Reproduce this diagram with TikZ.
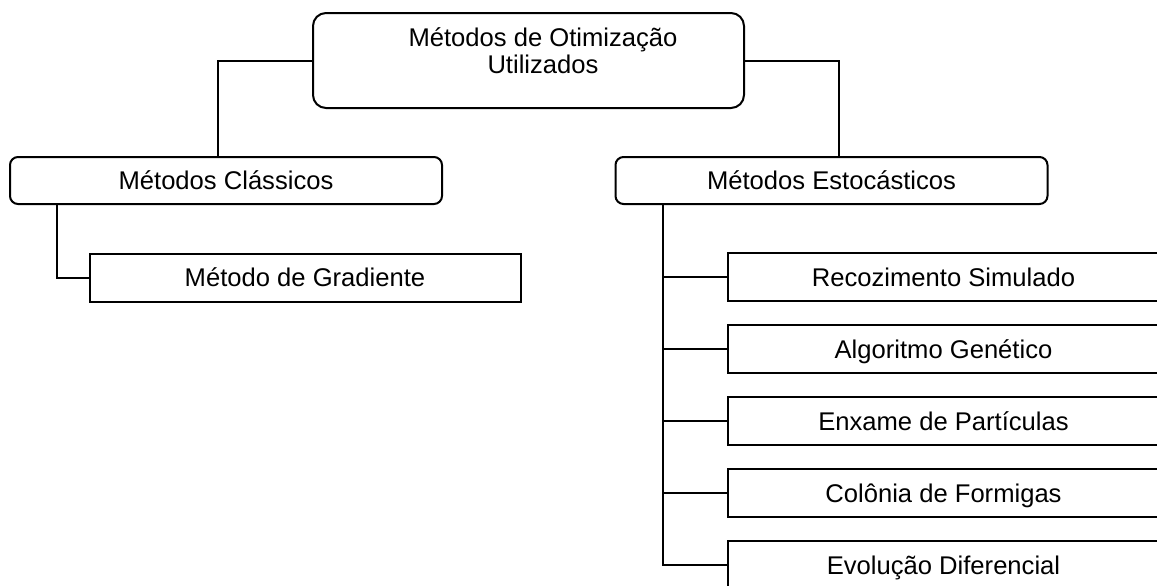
\documentclass[tikz,border=0pt]{standalone}
\usepackage{fontspec}
\setmainfont{Liberation Sans}
\usetikzlibrary{positioning}
\tikzstyle{bigbox} = [rectangle, rounded corners=6.5pt, minimum width=215.5pt, minimum height=47.5pt, draw=black, line width=1pt]
\tikzstyle{groupbox} = [rectangle, rounded corners=4pt, minimum width=216pt, minimum height=23.5pt, text centered, text height=1.1em, text depth=0.16em, draw=black, fill=white, line width=1pt]
\tikzstyle{method} = [rectangle, minimum width=215.5pt, minimum height=24pt, text centered, text height=1.1em, text depth=0.16em, draw=black, fill=white, line width=1pt]
\tikzstyle{link} = [line width=1pt]

\begin{document}
\begin{tikzpicture}[x=0.5pt, y=-0.5pt, node distance=36pt, font=\fontsize{12.8}{13.3}\selectfont]
    \useasboundingbox (0,0) rectangle (1157,585);
    \clip (0,0) rectangle (1157,585);
    \node (top) [bigbox] at (528.5,60.5) {};
    \node (toptext) [align=center] at ([xshift=7.25pt, yshift=5pt]top.center) {Métodos de Otimização\\Utilizados};
    \node (clas) [groupbox] at (226,180.5) {Métodos Clássicos};
    \node (esto) [groupbox] at (831.5,180.5) {Métodos Estocásticos};
    \node (grad) [method] at (305,277.5) {Método de Gradiente};
    \node (reco) [method] at (943.5,277) {Recozimento Simulado};
    \node (alg) [method, below of = reco] {Algoritmo Genético};
    \node (enx) [method, below of = alg] {Enxame de Partículas};
    \node (col) [method, below of = enx] {Colônia de Formigas};
    \node (evo) [method, below of = col] {Evolução Diferencial};
    \coordinate (spine) at ([xshift=24pt]esto.south west);
    \draw [link] (top.west) -| ([xshift=-4pt]clas.north);
    \draw [link] (top.east) -| ([xshift=3.75pt]esto.north);
    \draw [link] ([xshift=24pt]clas.south west) |- (grad.west);
    \draw [link] (spine) |- (evo.west);
    \foreach \n in {reco,alg,enx,col}
        \draw [link] (\n.west) -- (\n.west -| spine);
\end{tikzpicture}
\end{document}
